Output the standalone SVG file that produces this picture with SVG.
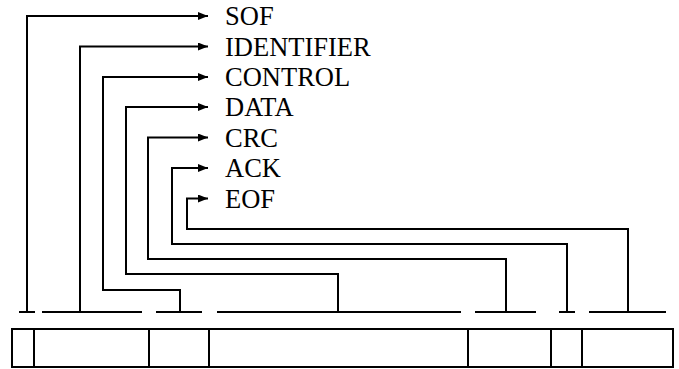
<svg xmlns="http://www.w3.org/2000/svg" width="679" height="369" viewBox="0 0 679 369">
<style>
.ln{fill:none;stroke:#000;stroke-width:2}
.cell{fill:#fff;stroke:#000;stroke-width:2}
.lbl{font-family:"Liberation Serif","Times New Roman",serif;font-size:26.5px;fill:#000}
</style>
<defs>
<marker id="ah" markerWidth="10" markerHeight="8" refX="10" refY="4" orient="auto" markerUnits="userSpaceOnUse">
<path d="M0,0 L10,4 L0,8 Z" fill="#000"/>
</marker>
</defs>
<rect width="679" height="369" fill="#fff"/>
<g id="labels">
<g id="lbl-sof"><text class="lbl" x="225" y="25">SOF</text></g>
<g id="lbl-identifier"><text class="lbl" x="225" y="55.5">IDENTIFIER</text></g>
<g id="lbl-control"><text class="lbl" x="225" y="86">CONTROL</text></g>
<g id="lbl-data"><text class="lbl" x="225" y="116">DATA</text></g>
<g id="lbl-crc"><text class="lbl" x="225" y="146.5">CRC</text></g>
<g id="lbl-ack"><text class="lbl" x="225" y="177">ACK</text></g>
<g id="lbl-eof"><text class="lbl" x="225" y="207.5">EOF</text></g>
</g>
<g id="fields">
<g id="f-sof"><rect class="cell" x="12" y="329" width="22" height="38"/><path class="ln" d="M19,312 H35"/></g>
<g id="f-identifier"><rect class="cell" x="34" y="329" width="115" height="38"/><path class="ln" d="M42,312 H142"/></g>
<g id="f-control"><rect class="cell" x="149" y="329" width="60" height="38"/><path class="ln" d="M156,312 H202"/></g>
<g id="f-data"><rect class="cell" x="209" y="329" width="259" height="38"/><path class="ln" d="M217,312 H461"/></g>
<g id="f-crc"><rect class="cell" x="468" y="329" width="83" height="38"/><path class="ln" d="M475,312 H536"/></g>
<g id="f-ack"><rect class="cell" x="551" y="329" width="31" height="38"/><path class="ln" d="M559,312 H575"/></g>
<g id="f-eof"><rect class="cell" x="582" y="329" width="91" height="38"/><path class="ln" d="M589,312 H666"/></g>
</g>
<g id="connectors">
<path class="ln" marker-end="url(#ah)" d="M27,312 V16 H208"/>
<path class="ln" marker-end="url(#ah)" d="M80,312 V46.5 H208"/>
<path class="ln" marker-end="url(#ah)" d="M180,312 V290 H103 V77 H208"/>
<path class="ln" marker-end="url(#ah)" d="M338,312 V274 H126 V107 H208"/>
<path class="ln" marker-end="url(#ah)" d="M506,312 V259 H148 V137.5 H208"/>
<path class="ln" marker-end="url(#ah)" d="M567,312 V244 H172 V168 H208"/>
<path class="ln" marker-end="url(#ah)" d="M628,312 V229 H187 V198.5 H208"/>
</g>
</svg>
